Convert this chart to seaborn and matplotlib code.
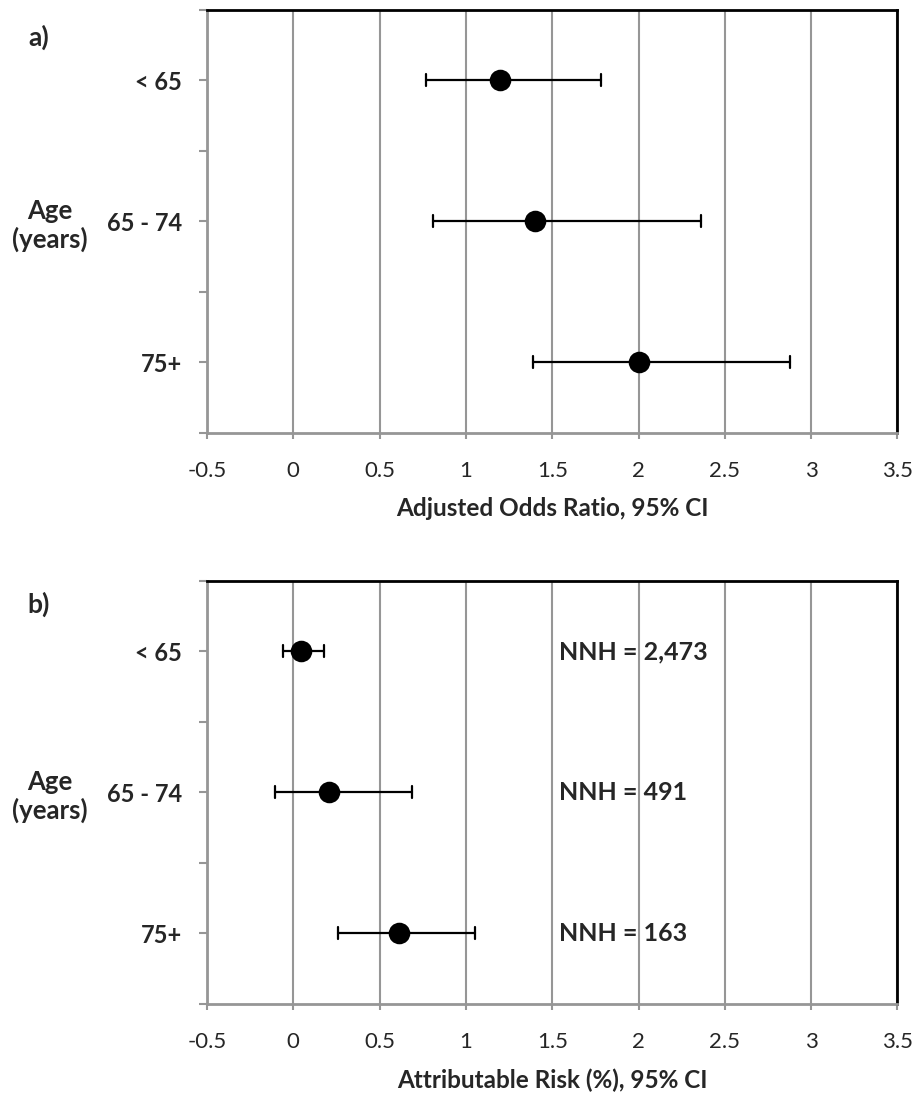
import matplotlib
matplotlib.use("Agg")
import matplotlib.pyplot as plt
import pandas as pd
import seaborn as sns
from matplotlib.ticker import FixedLocator

sns.set_style("white")
plt.rcParams["font.family"] = ["Lato", "DejaVu Sans"]

AGE_GROUPS = ["< 65", "65 - 74", "75+"]

# panel a: adjusted odds ratio with 95% CI
OR_EST = [1.20, 1.40, 2.00]
OR_LO = [0.77, 0.81, 1.39]
OR_HI = [1.78, 2.36, 2.88]

# panel b: attributable risk (%) with 95% CI
AR_EST = [0.045, 0.205, 0.61]
AR_LO = [-0.06, -0.105, 0.26]
AR_HI = [0.18, 0.685, 1.05]

NNH_LABELS = ["NNH = 2,473", "NNH = 491", "NNH = 163"]
NNH_X = 1.54

X_TICKS = [-0.5, 0, 0.5, 1, 1.5, 2, 2.5, 3, 3.5]
X_TICK_LABELS = ["-0.5", "0", "0.5", "1", "1.5", "2", "2.5", "3", "3.5"]
Y_BOUNDS = [-0.5, 0.5, 1.5, 2.5]

GRAY = "#969696"


def long_form(est, lo, hi):
    # three rows per group: median -> estimate, min/max -> CI
    rows = []
    for g, e, l, h in zip(AGE_GROUPS, est, lo, hi):
        for v in (l, e, h):
            rows.append({"age": g, "value": v})
    return pd.DataFrame(rows)


def ci_range(values):
    return values.min(), values.max()


def draw_panel(ax, df, xlabel):
    sns.pointplot(
        data=df, x="value", y="age", order=AGE_GROUPS, orient="h",
        estimator="median", errorbar=ci_range, color="black",
        linestyle="none", markersize=13.5, capsize=0.085,
        err_kws={"linewidth": 1.6}, ax=ax,
    )
    ax.set_axisbelow(True)
    ax.set_xlim(-0.5, 3.5)
    ax.set_xticks(X_TICKS)
    ax.set_xticklabels(X_TICK_LABELS)
    ax.set_ylim(2.5, -0.5)
    ax.yaxis.set_minor_locator(FixedLocator(Y_BOUNDS))

    ax.tick_params(axis="y", which="both", left=True, length=6,
                   width=1.5, color=GRAY)
    ax.tick_params(axis="y", which="major", pad=12, labelsize=17)
    ax.tick_params(axis="x", bottom=True, length=4, width=1.5, color=GRAY,
                   pad=16, labelsize=16)
    for lab in ax.get_yticklabels():
        lab.set_fontweight("bold")

    ax.grid(axis="x", color=GRAY, linewidth=1.5)
    ax.grid(axis="y", visible=False)
    for side in ["left", "bottom"]:
        ax.spines[side].set_color(GRAY)
        ax.spines[side].set_linewidth(2)
    for side in ["top", "right"]:
        ax.spines[side].set_color("black")
        ax.spines[side].set_linewidth(2)

    ax.set_ylabel("")
    ax.set_xlabel(xlabel, fontweight="bold", fontsize=17.5, labelpad=12)
    ax.text(-0.227, 0.49, "Age\n(years)", transform=ax.transAxes,
            ha="center", va="center", fontweight="bold", fontsize=18.5,
            linespacing=1.2)


fig = plt.figure(figsize=(9.17, 10.94), dpi=100)
ax_a = fig.add_axes([0.2257, 0.6042, 0.753, 0.3871])
ax_b = fig.add_axes([0.2257, 0.0823, 0.753, 0.3867])

draw_panel(ax_a, long_form(OR_EST, OR_LO, OR_HI), "Adjusted Odds Ratio, 95% CI")
draw_panel(ax_b, long_form(AR_EST, AR_LO, AR_HI), "Attributable Risk (%), 95% CI")

for i, label in enumerate(NNH_LABELS):
    ax_b.text(NNH_X, i, label, ha="left", va="center",
              fontweight="bold", fontsize=18)

fig.text(39 / 917, 1 - 37 / 1094, "a)", ha="center", va="center",
         fontweight="bold", fontsize=19)
fig.text(39 / 917, 1 - 604 / 1094, "b)", ha="center", va="center",
         fontweight="bold", fontsize=19)

fig.savefig("out.png", dpi=100)
